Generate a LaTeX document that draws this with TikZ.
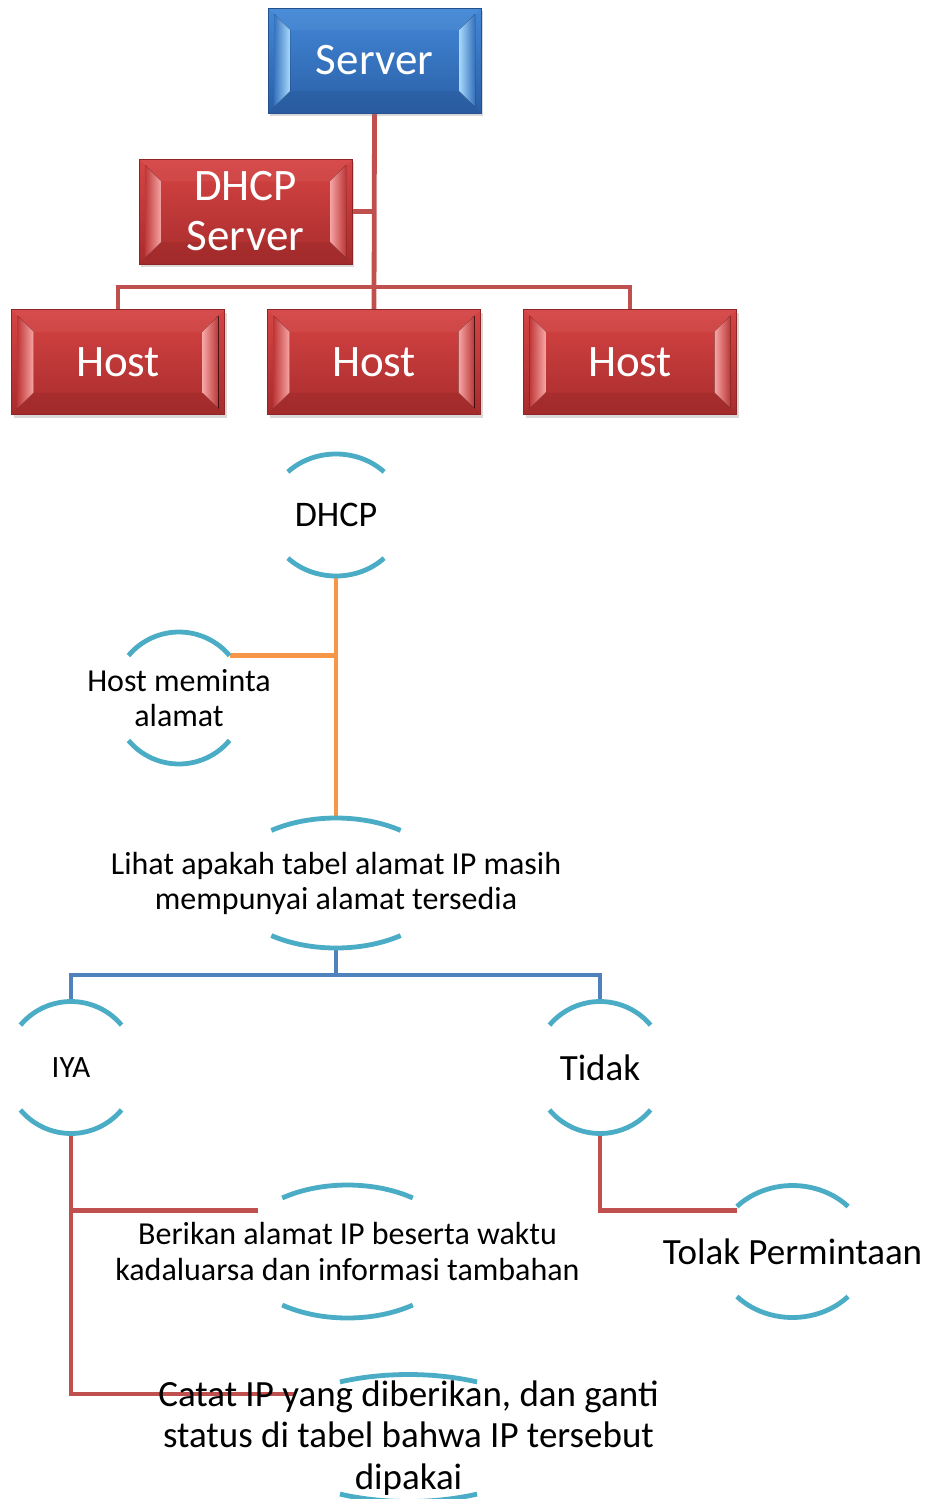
\documentclass[tikz,border=0pt]{standalone}
\usepackage{fontspec}
\setmainfont{Carlito}
\usetikzlibrary{calc,shadows,backgrounds}
\definecolor{rTop}{HTML}{D64444}
\definecolor{rBot}{HTML}{A82C2C}
\definecolor{rLight}{HTML}{F7A5A5}
\definecolor{bTop}{HTML}{4388D8}
\definecolor{bBot}{HTML}{2A5FA6}
\definecolor{bLight}{HTML}{A8DAFC}
\definecolor{lnRed}{HTML}{C0504D}
\definecolor{lnOrange}{HTML}{F79646}
\definecolor{lnBlue}{HTML}{4F81BD}
\definecolor{ringC}{HTML}{4BACC6}
\tikzset{
  bevel/.style n args={3}{rectangle, minimum width=213pt, minimum height=105pt,
    inner sep=0pt, text=white, align=center, font=\fontsize{45}{50}\selectfont,
    top color=#1, bottom color=#2, draw=#2!85!black, line width=0.6pt,
    drop shadow={shadow xshift=2pt, shadow yshift=-3pt, opacity=0.3},
    path picture={
      \path (path picture bounding box.south west) coordinate (pp-sw)
            (path picture bounding box.north east) coordinate (pp-ne);
      \fill[#1!70!white, opacity=0.15] (pp-sw |- pp-ne) -- (pp-ne) -- ($(pp-ne)+(-22,-22)$)
            -- ($(pp-sw |- pp-ne)+(22,-22)$) -- cycle;
      \fill[#2!80!black, opacity=0.2] (pp-sw) -- (pp-ne |- pp-sw) -- ($(pp-ne |- pp-sw)+(-22,22)$)
            -- ($(pp-sw)+(22,22)$) -- cycle;
      \fill[left color=#2!50!#1, right color=#3] ($(pp-sw)+(6,6)$) -- ($(pp-sw)+(22,22)$)
            -- ($(pp-sw |- pp-ne)+(22,-22)$) -- ($(pp-sw |- pp-ne)+(6,-6)$) -- cycle;
      \fill[left color=#3, right color=#2!60!#1] ($(pp-ne)+(-6,-6)$) -- ($(pp-ne)+(-22,-22)$)
            -- ($(pp-ne |- pp-sw)+(-22,22)$) -- ($(pp-ne |- pp-sw)+(-6,6)$) -- cycle;
    }},
  redbox/.style={bevel={rTop}{rBot}{rLight}},
  bluebox/.style={bevel={bTop}{bBot}{bLight}},
  lbl/.style={inner sep=0pt, align=center, text=black},
  ring/.style={draw=ringC, line width=4.8pt},
  redline/.style={draw=lnRed, line width=4.8pt},
  orline/.style={draw=lnOrange, line width=4.6pt},
  blueline/.style={draw=lnBlue, line width=4.6pt},
}
\newcommand\ringarcs[4]{%
  \draw[ring] ($(#1.center)+({#2*cos(#4)},{#3*sin(#4)})$)
     arc[start angle=#4, end angle={180-#4}, x radius=#2pt, y radius=#3pt];
  \draw[ring] ($(#1.center)+({-#2*cos(#4)},{-#3*sin(#4)})$)
     arc[start angle={180+#4}, end angle={360-#4}, x radius=#2pt, y radius=#3pt];
  \coordinate (#1-t) at ($(#1.center)+(0,#3)$);
  \coordinate (#1-b) at ($(#1.center)+(0,-#3)$);
  \coordinate (#1-tr) at ($(#1.center)+({#2*cos(#4)},{#3*sin(#4)})$);
  \coordinate (#1-tl) at ($(#1.center)+({-#2*cos(#4)},{#3*sin(#4)})$);
}
\begin{document}
\begin{tikzpicture}[x=1pt,y=1pt]
\useasboundingbox (0,0) rectangle (930,-1499);
% boxes
\node[bluebox] (server) at (374.5,-60.5) {Server};
\node[redbox] (dhcpsrv) at (245.5,-211.5) {DHCP\\Server};
\node[redbox] (host1) at (118,-362) {Host};
\node[redbox] (host2) at (374,-362) {Host};
\node[redbox] (host3) at (630,-362) {Host};
% labels
\node[lbl, font=\fontsize{36}{40}\selectfont] (dhcp) at (336,-515) {DHCP};
\node[lbl, font=\fontsize{32}{35}\selectfont] (hostreq) at (179,-698) {Host meminta\\alamat};
\node[lbl, font=\fontsize{32}{35}\selectfont] (lihat) at (336,-883) {Lihat apakah tabel alamat IP masih\\mempunyai alamat tersedia};
\node[lbl, font=\fontsize{31}{34}\selectfont] (iya) at (71,-1067.5) {IYA};
\node[lbl, font=\fontsize{37}{40}\selectfont] (tidak) at (600,-1067.5) {Tidak};
\node[lbl, font=\fontsize{32}{36}\selectfont] (berikan) at (347.5,-1251.5) {Berikan alamat IP beserta waktu\\kadaluarsa dan informasi tambahan};
\node[lbl, font=\fontsize{37}{40}\selectfont] (tolak) at (792.5,-1251.5) {Tolak Permintaan};
\node[lbl, font=\fontsize{37}{41.5}\selectfont] (catat) at (408.5,-1438) {Catat IP yang diberikan, dan ganti\\status di tabel bahwa IP tersebut\\dipakai};
% arcs
\ringarcs{dhcp}{68}{61}{45}
\ringarcs{hostreq}{66}{66}{40}
\ringarcs{lihat}{110}{65}{54}
\ringarcs{iya}{66}{66}{40}
\ringarcs{tidak}{66}{66}{40}
\ringarcs{berikan}{110}{66.5}{53.6}
\ringarcs{tolak}{76}{66}{43}
\ringarcs{catat}{146}{63.5}{62}
% connector coordinates
\coordinate (bus) at (374,-287);
\coordinate (split) at (336,-975);
\coordinate (berikan-in) at (258,-1210.5);
\coordinate (catat-in) at (294,-1394);
\begin{scope}[on background layer]
\draw[redline] (server.south) -- (host2.north);
\draw[redline] (dhcpsrv.east) -- (dhcpsrv.east -| server.south);
\draw[redline] (host1.north) |- (bus) -| (host3.north);
\draw[orline] (dhcp-b) -- (lihat-t);
\draw[orline] (hostreq-tr) -- (hostreq-tr -| dhcp-b);
\draw[blueline] (lihat-b) -- (split);
\draw[blueline] (iya-t) |- (split) -| (tidak-t);
\draw[redline] (iya-b) |- (catat-in);
\draw[redline] (iya-b |- berikan-in) -- (berikan-in);
\draw[redline] (tidak-b) |- (tolak-tl |- berikan-in);
\end{scope}
\end{tikzpicture}
\end{document}
